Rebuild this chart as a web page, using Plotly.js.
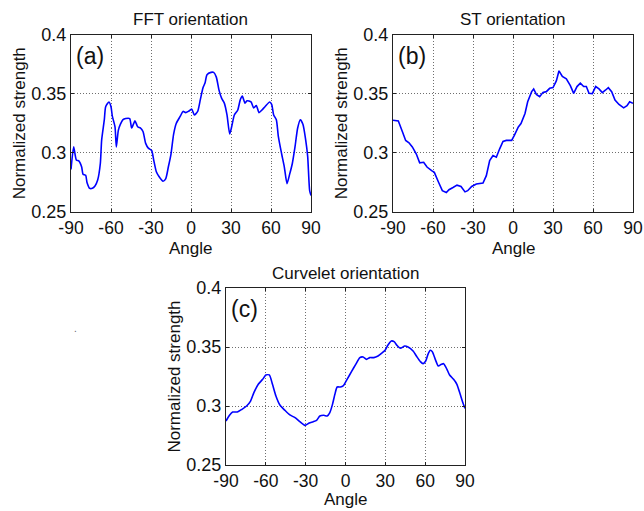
<!DOCTYPE html>
<html>
<head>
<meta charset="utf-8">
<script src="https://cdn.plot.ly/plotly-3.0.1.min.js"></script>
<style>
  html, body { margin: 0; padding: 0; background: #ffffff; }
  #chart { width: 644px; height: 511px; }
</style>
</head>
<body>
<div id="chart"></div>
<script>
// Orientation strength profiles (angle in degrees vs normalized strength)

const xTickVals = [-90, -60, -30, 0, 30, 60, 90];
const xTickText = ['-90', '-60', '-30', '0', '30', '60', '90'];
const yTickVals = [0.25, 0.3, 0.35, 0.4];
const yTickText = ['0.25', '0.3', '0.35', '0.4'];

// (a) FFT orientation
const fftAngle = [-90, -88, -86, -84, -82, -81, -79, -78, -76, -74, -72, -70, -68, -67, -65, -64, -61.5, -60,
  -59, -57, -56, -54.5, -53, -51, -49, -46, -44.5, -42, -40, -38, -36, -34, -32, -29.5, -28, -26, -24, -21,
  -19, -17, -15, -13, -11, -8, -6, -4, -2, 0.5, 2.5, 5, 7, 9, 10.5, 12, 15, 17, 19, 21, 23, 25, 27, 29,
  30.5, 32.5, 35, 37, 38.5, 40.5, 42, 45, 47, 49, 51, 53, 55.5, 59, 60.5, 62, 64, 65.5, 68, 70, 72, 74,
  76, 78, 80, 82, 84, 86, 87.5, 89, 90];
const fftStrength = [0.286, 0.305, 0.294, 0.293, 0.288, 0.282, 0.281, 0.275, 0.270, 0.270, 0.272, 0.277,
  0.291, 0.311, 0.328, 0.339, 0.343, 0.339, 0.331, 0.322, 0.305, 0.319, 0.324, 0.328, 0.329, 0.329, 0.321,
  0.327, 0.322, 0.321, 0.318, 0.308, 0.304, 0.302, 0.294, 0.284, 0.280, 0.276, 0.278, 0.288, 0.299, 0.316,
  0.325, 0.331, 0.335, 0.334, 0.335, 0.337, 0.332, 0.335, 0.345, 0.355, 0.359, 0.366, 0.368, 0.368, 0.364,
  0.353, 0.346, 0.342, 0.332, 0.316, 0.322, 0.332, 0.336, 0.345, 0.348, 0.342, 0.344, 0.343, 0.338, 0.340,
  0.334, 0.336, 0.339, 0.343, 0.341, 0.332, 0.328, 0.314, 0.299, 0.288, 0.274, 0.282, 0.291, 0.305, 0.321,
  0.328, 0.324, 0.311, 0.297, 0.268, 0.264];

// (b) ST orientation
const stAngle = [-90, -86, -83, -80.5, -78, -75.5, -72.5, -70, -67, -64.5, -61, -59, -56, -53, -50, -48,
  -45, -42, -39, -36, -34, -31, -27.5, -22.5, -20, -17.5, -15, -12.5, -10, -7.5, -5, -1, 1, 4, 6, 9, 11,
  14, 15.5, 17.5, 20, 22.5, 25, 27.5, 30, 32.5, 34.5, 37, 40, 43, 45.5, 48, 50.5, 53, 55, 57, 59.5, 62,
  64.5, 67, 69.5, 71.5, 74, 76.5, 79.5, 83, 85.5, 87.5, 90];
const stStrength = [0.3276, 0.327, 0.318, 0.3105, 0.3085, 0.305, 0.299, 0.2915, 0.292, 0.288, 0.285,
  0.2835, 0.2756, 0.268, 0.2665, 0.2688, 0.2707, 0.2727, 0.2716, 0.267, 0.268, 0.2716, 0.2736, 0.2744,
  0.2807, 0.2935, 0.2977, 0.2963, 0.3034, 0.3097, 0.3105, 0.3105, 0.3148, 0.3219, 0.3247, 0.3332, 0.3432,
  0.3517, 0.354, 0.3494, 0.3474, 0.3511, 0.3517, 0.3545, 0.3551, 0.3608, 0.3693, 0.3645, 0.3625, 0.3568,
  0.3503, 0.356, 0.3588, 0.356, 0.356, 0.3503, 0.35, 0.356, 0.354, 0.3509, 0.3531, 0.3551, 0.3517, 0.3446,
  0.3409, 0.338, 0.3398, 0.3432, 0.3418];

// (c) Curvelet orientation
const curveletAngle = [-90, -87.5, -85, -81.5, -78, -74.5, -71.5, -69, -65.7, -62.4, -60, -57.4, -55,
  -52.4, -49.4, -45.6, -41.9, -38, -34.4, -30.6, -27.3, -24.3, -21.8, -19.3, -16.3, -13.8, -11.8, -9.8, -8,
  -6.3, -3.8, -1.8, 1.2, 4.5, 7.7, 10.8, 13.3, 15.8, 18.3, 21.3, 24.5, 27.8, 29.8, 32, 34.5, 36.6, 38.8,
  41.3, 44.6, 47.1, 50.9, 53.4, 56.4, 58.4, 60.4, 62.1, 63.9, 65.4, 67.9, 69.9, 72.2, 73.9, 76.4, 78.4,
  81.4, 83.9, 86.4, 88.4, 90];
const curveletStrength = [0.2873, 0.292, 0.2949, 0.2949, 0.2972, 0.300, 0.3042, 0.3113, 0.3184, 0.3226,
  0.3263, 0.3263, 0.3184, 0.3085, 0.3008, 0.2963, 0.2924, 0.2901, 0.2867, 0.2836, 0.2856, 0.2867, 0.2879,
  0.2915, 0.2921, 0.2915, 0.2944, 0.3014, 0.3099, 0.3161, 0.3161, 0.317, 0.3226, 0.3291, 0.3353, 0.341,
  0.3415, 0.3395, 0.341, 0.341, 0.3424, 0.3452, 0.3472, 0.3517, 0.3551, 0.3545, 0.3514, 0.3489, 0.3508,
  0.35, 0.3466, 0.3424, 0.3376, 0.3359, 0.3381, 0.3438, 0.3472, 0.346, 0.3387, 0.3339, 0.3353, 0.3359,
  0.3311, 0.3263, 0.3226, 0.3184, 0.3099, 0.3028, 0.298];

const panelTitles = ['FFT orientation', 'ST orientation', 'Curvelet orientation'];
const panelLetters = ['(a)', '(b)', '(c)'];
const xLabel = 'Angle';
const yLabel = 'Normalized strength';

const FONT = 'Liberation Sans, Arial, Helvetica, sans-serif';
const W = 644, H = 511;

// plot-area boxes in pixels: [left, right, top, bottom], plus x-label offset below the box
const boxes = [
  [71, 311, 34.5, 212],
  [393, 633, 34.5, 212],
  [226, 465, 288, 465]
];
const xLabelGap = [36, 36, 34];

function line(x, y, xa, ya, smooth) {
  return {
    x: x, y: y, xaxis: xa, yaxis: ya, type: 'scatter', mode: 'lines',
    line: { color: '#0000ff', width: 1.6, shape: smooth ? 'spline' : 'linear', smoothing: 0.6 },
    hoverinfo: 'skip', showlegend: false
  };
}

const data = [
  line(fftAngle, fftStrength, 'x', 'y', true),
  line(stAngle, stStrength, 'x2', 'y2', false),
  line(curveletAngle, curveletStrength, 'x3', 'y3', true)
];

const gridStyle = { showgrid: true, gridcolor: '#6e6e6e', griddash: '1px,2px', gridwidth: 1 };

function xAxis(i) {
  const b = boxes[i];
  return Object.assign({
    domain: [b[0] / W, b[1] / W],
    anchor: i === 0 ? 'y' : 'y' + (i + 1),
    range: [-90, 90],
    tickmode: 'array', tickvals: xTickVals, ticktext: xTickText,
    ticks: 'inside', ticklen: 3, tickcolor: '#222', mirror: 'ticks',
    showline: true, linecolor: '#222', linewidth: 1,
    zeroline: false,
    tickfont: { family: FONT, size: 17.5, color: '#111' },
    fixedrange: true
  }, gridStyle);
}

function yAxis(i) {
  const b = boxes[i];
  return Object.assign({
    domain: [1 - b[3] / H, 1 - b[2] / H],
    anchor: i === 0 ? 'x' : 'x' + (i + 1),
    range: [0.25, 0.4],
    tickmode: 'array', tickvals: yTickVals, ticktext: yTickText,
    ticks: 'inside', ticklen: 3, tickcolor: '#222', mirror: 'ticks',
    showline: true, linecolor: '#222', linewidth: 1,
    zeroline: false,
    tickfont: { family: FONT, size: 18, color: '#111' },
    title: { text: yLabel, font: { family: FONT, size: 17, color: '#111' }, standoff: 1 },
    fixedrange: true
  }, gridStyle);
}

const annotations = [];
boxes.forEach(function (b, i) {
  // panel title above the box
  annotations.push({
    xref: 'paper', yref: 'paper',
    x: (b[0] + b[1]) / 2 / W, y: 1 - (b[2] - 15) / H,
    text: panelTitles[i], showarrow: false,
    xanchor: 'center', yanchor: 'middle',
    font: { family: FONT, size: 17, color: '#111' }
  });
  // x-axis label below the tick labels
  annotations.push({
    xref: 'paper', yref: 'paper',
    x: (b[0] + b[1]) / 2 / W, y: 1 - (b[3] + xLabelGap[i]) / H,
    text: xLabel, showarrow: false,
    xanchor: 'center', yanchor: 'middle',
    font: { family: FONT, size: 17, color: '#111' }
  });
  // panel letter in the upper-left corner
  annotations.push({
    xref: 'paper', yref: 'paper',
    x: (b[0] + 3) / W, y: 1 - (b[2] + 21) / H,
    text: panelLetters[i], showarrow: false,
    xanchor: 'left', yanchor: 'middle',
    font: { family: FONT, size: 23, color: '#111' }
  });
});
annotations.push({
  xref: 'paper', yref: 'paper', x: 75 / W, y: 1 - 328 / H,
  text: '.', showarrow: false, xanchor: 'center', yanchor: 'middle',
  font: { family: FONT, size: 10, color: '#666' }
});

const layout = {
  width: W, height: H,
  margin: { l: 0, r: 0, t: 0, b: 0 },
  paper_bgcolor: '#ffffff', plot_bgcolor: '#ffffff',
  showlegend: false,
  xaxis: xAxis(0), yaxis: yAxis(0),
  xaxis2: xAxis(1), yaxis2: yAxis(1),
  xaxis3: xAxis(2), yaxis3: yAxis(2),
  annotations: annotations
};

Plotly.newPlot('chart', data, layout, { staticPlot: true, displayModeBar: false });
</script>
</body>
</html>
